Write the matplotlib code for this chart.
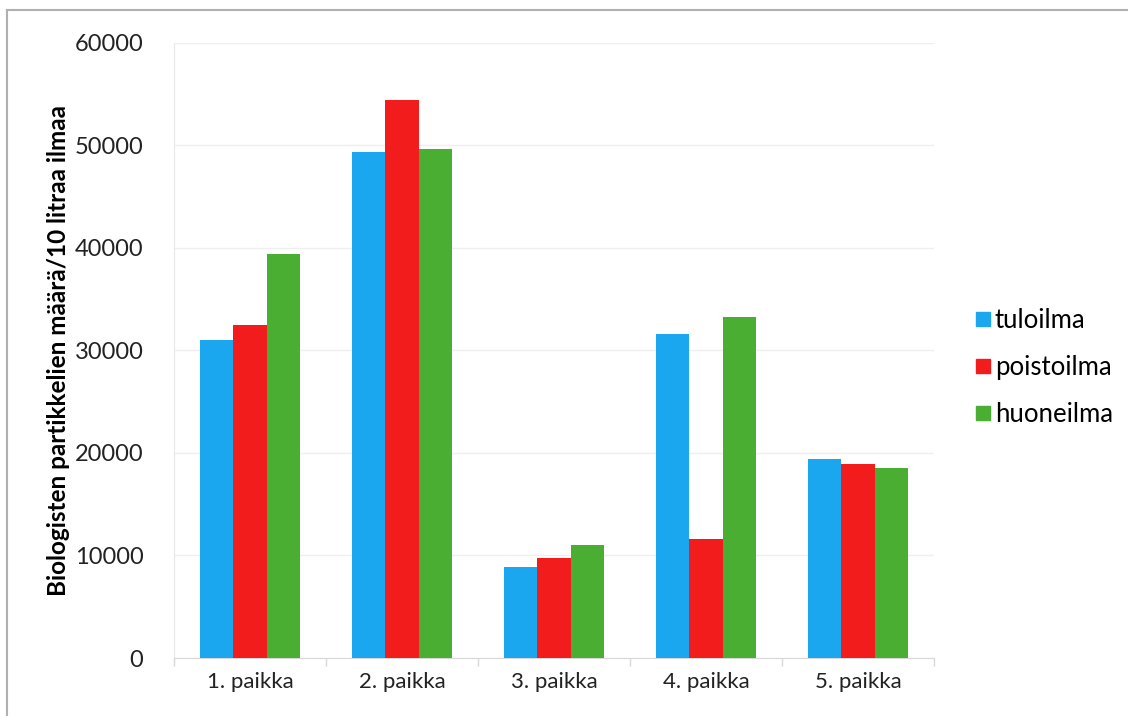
import numpy as np
import matplotlib.pyplot as plt
from matplotlib.lines import Line2D

places = ["1. paikka", "2. paikka", "3. paikka", "4. paikka", "5. paikka"]
tuloilma = [31000, 49400, 8900, 31600, 19400]
poistoilma = [32500, 54400, 9750, 11600, 18900]
huoneilma = [39400, 49700, 11000, 33300, 18500]

series = [("tuloilma", tuloilma, "#1aa7f0"),
          ("poistoilma", poistoilma, "#f21c1c"),
          ("huoneilma", huoneilma, "#4aae32")]

plt.rcParams['font.family'] = ['Lato', 'DejaVu Sans']

fig = plt.figure(figsize=(11.28, 7.16), dpi=100)
ax = fig.add_axes([0.1543, 0.081, 0.6738, 0.859])

x = np.arange(len(places))
width = 0.22
for i, (name, vals, col) in enumerate(series):
    ax.bar(x + (i - 1) * width, vals, width, color=col, label=name, zorder=3)

ax.set_xlim(-0.5, len(places) - 0.5)
ax.set_ylim(0, 60000)
ax.set_yticks(range(0, 60001, 10000))
ax.set_xticks(x)
ax.set_xticklabels(places)
ax.tick_params(axis='y', length=0, labelsize=17, pad=22, colors='#222222')
ax.tick_params(axis='x', length=0, labelsize=16, pad=10, colors='#222222')

# category boundary ticks along the bottom
ax.set_xticks(np.arange(-0.5, len(places), 1), minor=True)
ax.tick_params(axis='x', which='minor', length=6, color='#d8d8d8', width=1)

ax.grid(axis='y', color='#efefef', linewidth=1, zorder=0)
for s in ['top', 'right']:
    ax.spines[s].set_visible(False)
ax.spines['left'].set_color('#e8e8e8')
ax.spines['bottom'].set_color('#d8d8d8')

ax.set_ylabel("Biologisten partikkelien määrä/10 litraa ilmaa",
              fontsize=17.5, fontweight='bold', labelpad=3)

handles = [Line2D([], [], marker='s', linestyle='', markersize=10,
                  color=col, label=name) for name, vals, col in series]
fig.legend(handles=handles, loc='center left', bbox_to_anchor=(0.842, 0.487),
           frameon=False, fontsize=18.5, handletextpad=0.05, labelspacing=0.85,
           handlelength=0.8)

# outer frame
fig.add_artist(Line2D([7 / 1128, 1], [1 - 10 / 716, 1 - 10 / 716],
                      transform=fig.transFigure, color='#b0b0b0', lw=1.5))
fig.add_artist(Line2D([7 / 1128, 7 / 1128], [0, 1 - 10 / 716],
                      transform=fig.transFigure, color='#b0b0b0', lw=1.5))

fig.savefig("out.png", dpi=100)
